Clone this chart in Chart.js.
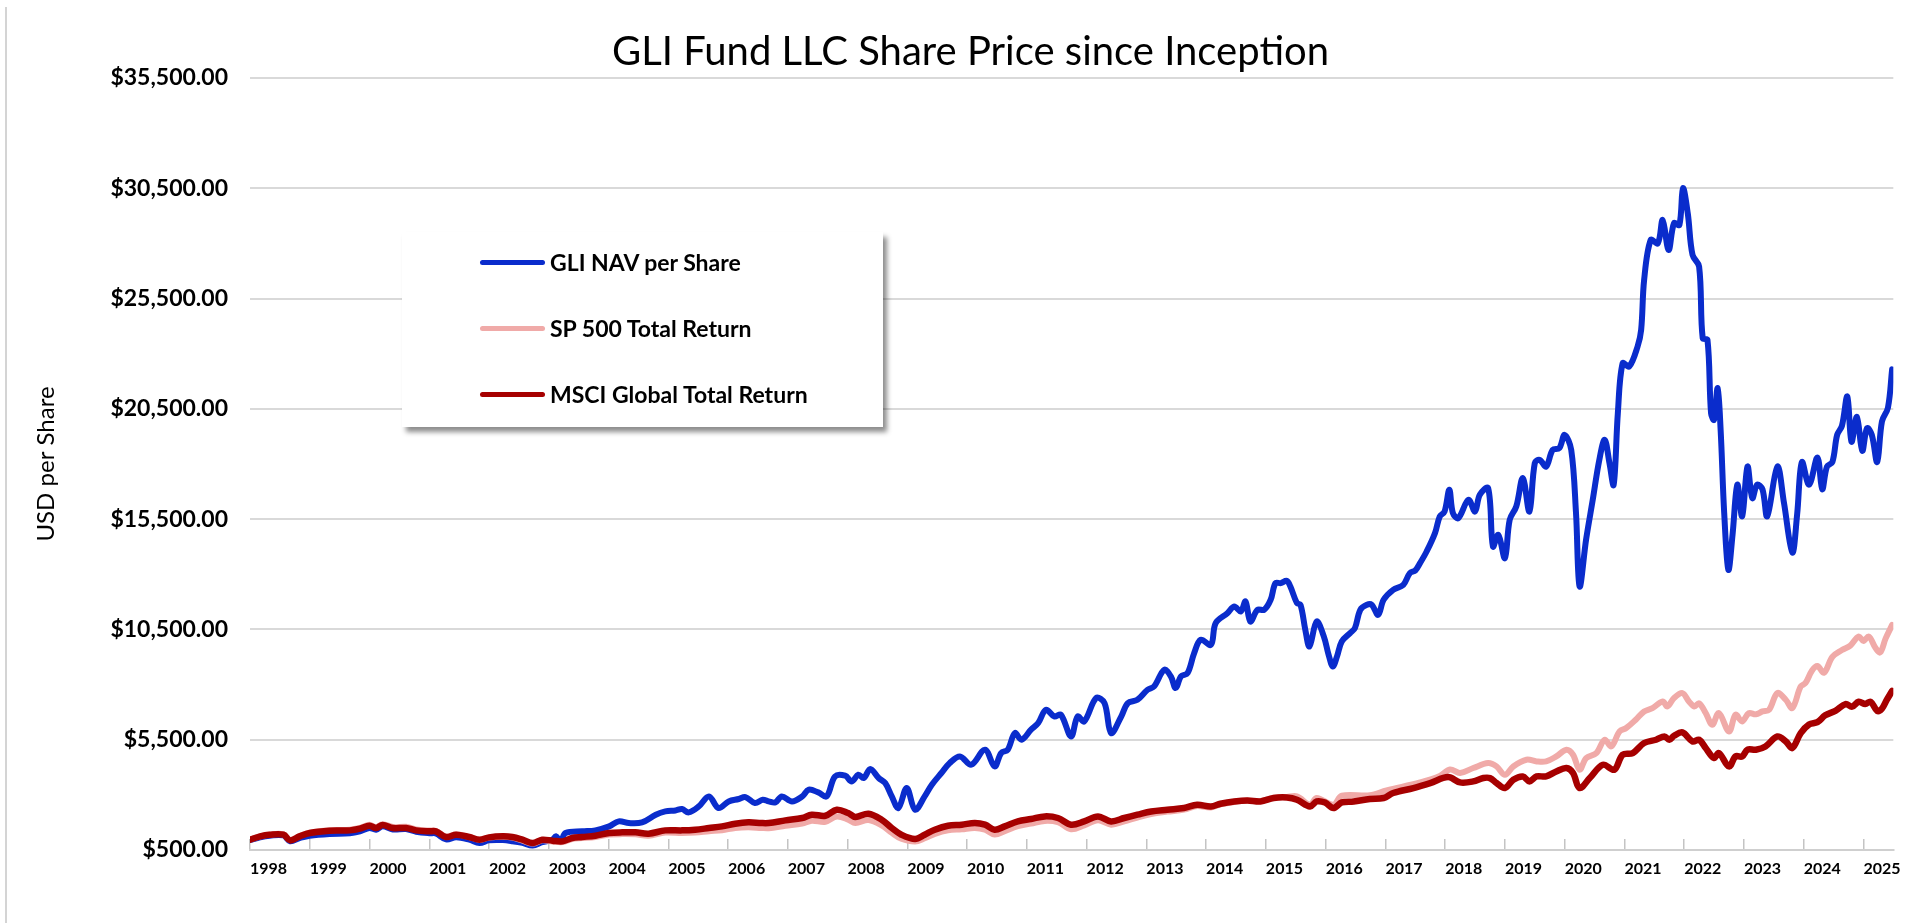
<!DOCTYPE html>
<html>
<head>
<meta charset="utf-8">
<script src="https://cdn.jsdelivr.net/npm/chart.js@4/dist/chart.umd.min.js"></script>
<style>
html,body{margin:0;padding:0;background:#fff;}
#wrap{position:relative;width:1921px;height:923px;overflow:hidden;background:#fff;}
#c{display:block;}
#frame{position:absolute;left:5px;top:7px;width:2px;height:916px;background:#d4d4d4;}
#legend{position:absolute;left:402px;top:232px;width:481px;height:195px;background:#fff;box-shadow:4px 5px 5px rgba(0,0,0,0.45);font-family:Lato, sans-serif;font-weight:700;font-size:23px;color:#000;}
.item{position:absolute;left:78px;height:30px;display:flex;align-items:center;white-space:nowrap;}
.swatch{width:65px;height:5px;border-radius:3px;margin-right:5px;}
</style>
</head>
<body>
<div id="wrap">
<canvas id="c" width="1921" height="923"></canvas>
<div id="frame"></div>
<div id="legend"></div>
</div>
<script>
const chartTitle = 'GLI Fund LLC Share Price since Inception';
const yAxisTitle = 'USD per Share';
const seriesNames = ['GLI NAV per Share', 'SP 500 Total Return', 'MSCI Global Total Return'];
const yearTicks = [1998,1999,2000,2001,2002,2003,2004,2005,2006,2007,2008,2009,2010,2011,2012,2013,2014,2015,2016,2017,2018,2019,2020,2021,2022,2023,2024,2025];
const yTicks = [500,5500,10500,15500,20500,25500,30500,35500];

const gliYears = [1998.00,1998.17,1998.33,1998.56,1998.67,1998.83,1999.00,1999.33,1999.67,1999.84,
2000.00,2000.11,2000.22,2000.39,2000.61,2000.78,2001.00,2001.11,2001.28,2001.45,2001.67,2001.84,
2002.00,2002.23,2002.39,2002.56,2002.73,2002.89,2003.06,2003.12,2003.20,2003.28,2003.56,2003.78,
2004.01,2004.17,2004.34,2004.56,2004.79,2004.95,2005.12,2005.23,2005.34,2005.51,2005.68,2005.84,
2006.01,2006.18,2006.29,2006.45,2006.58,2006.68,2006.79,2006.90,2007.07,2007.24,2007.35,2007.51,
2007.65,2007.79,2007.96,2008.07,2008.18,2008.27,2008.38,2008.52,2008.63,2008.74,2008.85,2008.99,
2009.13,2009.29,2009.41,2009.57,2009.71,2009.88,2010.07,2010.30,2010.46,2010.57,2010.68,2010.80,
2010.91,2011.07,2011.19,2011.32,2011.46,2011.57,2011.74,2011.85,2011.96,2012.16,2012.30,2012.41,
2012.58,2012.69,2012.85,2013.02,2013.13,2013.30,2013.41,2013.49,2013.58,2013.69,2013.80,2013.91,
2014.08,2014.16,2014.36,2014.47,2014.58,2014.66,2014.74,2014.86,2014.97,2015.08,2015.16,2015.25,
2015.35,2015.41,2015.52,2015.58,2015.66,2015.73,2015.85,2015.97,2016.05,2016.12,2016.19,2016.27,
2016.41,2016.49,2016.58,2016.69,2016.77,2016.88,2016.97,2017.13,2017.30,2017.41,2017.50,2017.58,
2017.69,2017.83,2017.91,2017.99,2018.07,2018.13,2018.22,2018.39,2018.50,2018.58,2018.72,2018.80,
2018.89,2019.00,2019.08,2019.19,2019.30,2019.41,2019.50,2019.58,2019.69,2019.80,2019.91,2020.00,
2020.11,2020.19,2020.25,2020.36,2020.47,2020.58,2020.67,2020.75,2020.82,2020.89,2020.97,2021.08,
2021.22,2021.28,2021.33,2021.44,2021.56,2021.64,2021.74,2021.83,2021.92,2021.98,2022.06,2022.14,
2022.25,2022.31,2022.39,2022.45,2022.50,2022.56,2022.61,2022.67,2022.74,2022.81,2022.89,2022.97,
2023.06,2023.14,2023.22,2023.31,2023.39,2023.56,2023.67,2023.81,2023.89,2023.97,2024.09,2024.23,
2024.31,2024.39,2024.48,2024.56,2024.64,2024.73,2024.80,2024.89,2024.98,2025.06,2025.14,2025.23,
2025.31,2025.41,2025.48];
const gliValues = [950,1080,1150,1160,900,1040,1150,1230,1260,1350,
1500,1420,1580,1430,1450,1330,1260,1250,980,1080,970,820,
940,950,900,820,700,860,960,1120,900,1270,1345,1390,
1571,1797,1722,1753,2100,2250,2295,2355,2205,2476,2929,2403,
2703,2811,2900,2630,2780,2704,2657,2929,2704,2929,3233,3110,
2929,3836,3867,3610,3913,3763,4171,3763,3536,2929,2403,3310,
2328,2929,3459,3990,4443,4742,4367,5046,4290,4896,5046,5802,
5499,5952,6256,6858,6555,6632,5649,6555,6328,7389,7162,5800,
6555,7162,7312,7765,7915,8671,8368,7842,8368,8521,9428,10031,
9804,10788,11241,11541,11315,11768,10861,11391,11391,11844,12600,12600,
12700,12447,11694,11617,10484,9728,10861,10181,9351,8821,9274,9954,
10334,10561,11391,11617,11617,11164,11844,12297,12523,13053,13172,13507,
14032,14867,15619,15845,16830,15773,15546,16376,15845,16602,16906,14260,
14790,13730,15469,16072,17359,15845,18039,18189,17885,18642,18719,19321,
18642,15773,12447,14600,16376,18189,19095,18039,17055,20305,22571,22418,
23324,24081,26347,28160,28009,29065,27704,28915,28839,30502,29368,27478,
26951,23704,23627,20305,20002,21438,19549,15773,13203,14808,17062,15627,
17885,16449,17062,16856,15627,17885,16244,13987,15703,18088,17062,18292,
16856,17885,18088,19320,19729,21061,19011,20137,18600,19626,19320,18088,
19933,20549,22290];

const spYears = [1998.00,1998.17,1998.33,1998.56,1998.67,1998.83,1999.00,1999.33,1999.67,1999.84,
2000.00,2000.11,2000.22,2000.39,2000.61,2000.78,2001.00,2001.11,2001.28,2001.45,2001.67,2001.84,
2002.00,2002.23,2002.39,2002.56,2002.73,2002.89,2003.06,2003.23,2003.39,2003.56,2003.78,
2004.01,2004.23,2004.45,2004.67,2004.95,2005.23,2005.45,2005.68,2005.90,2006.12,2006.34,2006.56,
2006.68,2006.96,2007.24,2007.40,2007.63,2007.82,2008.01,2008.13,2008.35,2008.57,2008.74,2008.90,
2009.13,2009.29,2009.46,2009.68,2009.91,2010.13,2010.30,2010.46,2010.63,2010.85,2011.07,2011.30,
2011.52,2011.74,2011.96,2012.19,2012.41,2012.63,2012.85,2013.08,2013.35,2013.63,2013.85,2014.08,
2014.24,2014.47,2014.69,2014.91,2015.13,2015.35,2015.52,2015.74,2015.85,2016.13,2016.27,2016.74,
2017.02,2017.58,2017.91,2018.08,2018.25,2018.47,2018.72,2018.86,2019.00,2019.14,2019.36,2019.53,
2019.69,2019.86,2020.03,2020.14,2020.25,2020.36,2020.53,2020.67,2020.78,2020.92,2021.03,2021.19,
2021.33,2021.47,2021.64,2021.72,2021.83,2021.97,2022.08,2022.17,2022.25,2022.36,2022.47,2022.58,
2022.75,2022.86,2022.97,2023.08,2023.20,2023.31,2023.42,2023.56,2023.70,2023.81,2023.95,2024.03,
2024.14,2024.23,2024.34,2024.48,2024.64,2024.78,2024.92,2025.00,2025.09,2025.20,2025.28,2025.37,
2025.48];
const spValues = [980,1120,1200,1210,950,1130,1290,1400,1420,1500,
1640,1530,1670,1540,1550,1430,1380,1370,1100,1210,1090,960,
1060,1100,1060,930,790,940,890,860,1000,1040,1090,
1200,1220,1210,1150,1290,1270,1290,1350,1400,1500,1530,1500,
1490,1600,1700,1830,1780,2020,1880,1720,1860,1620,1280,1010,
880,1030,1230,1390,1440,1500,1420,1200,1350,1580,1700,1820,
1760,1440,1620,1850,1650,1800,1970,2130,2240,2330,2490,2430,
2570,2680,2740,2720,2870,2900,2933,2553,2857,2553,2960,2980,
3200,3560,3850,4150,3990,4216,4443,4290,3913,4289,4593,4517,
4517,4742,5046,4819,4139,4670,4896,5499,5197,5875,6029,6405,
6781,6935,7235,7008,7389,7615,7235,7008,7150,6709,6179,6709,
5875,6632,6328,6700,6650,6781,6850,7615,7312,6935,7915,8068,
8640,8844,8535,9256,9564,9768,10180,9976,10180,9668,9460,10081,
10706];

const msciYears = [1998.00,1998.17,1998.33,1998.56,1998.67,1998.83,1999.00,1999.33,1999.67,1999.84,
2000.00,2000.11,2000.22,2000.39,2000.61,2000.78,2001.00,2001.11,2001.28,2001.45,2001.67,2001.84,
2002.00,2002.23,2002.39,2002.56,2002.73,2002.89,2003.06,2003.23,2003.39,2003.56,2003.78,
2004.01,2004.23,2004.45,2004.67,2004.95,2005.23,2005.45,2005.68,2005.90,2006.12,2006.34,2006.56,
2006.68,2006.96,2007.24,2007.40,2007.63,2007.82,2008.01,2008.13,2008.35,2008.57,2008.74,2008.90,
2009.13,2009.29,2009.46,2009.68,2009.91,2010.13,2010.30,2010.46,2010.63,2010.85,2011.07,2011.30,
2011.52,2011.74,2011.96,2012.19,2012.41,2012.63,2012.85,2013.08,2013.35,2013.63,2013.85,2014.08,
2014.24,2014.47,2014.69,2014.91,2015.13,2015.35,2015.52,2015.74,2015.85,2015.99,2016.13,2016.27,
2016.47,2016.74,2016.97,2017.13,2017.47,2017.75,2018.05,2018.25,2018.47,2018.64,2018.75,2018.86,
2019.00,2019.14,2019.30,2019.41,2019.53,2019.69,2019.86,2020.03,2020.14,2020.25,2020.42,2020.64,
2020.83,2020.97,2021.14,2021.33,2021.53,2021.67,2021.75,2021.83,2021.97,2022.14,2022.25,2022.36,
2022.50,2022.58,2022.75,2022.86,2022.97,2023.06,2023.20,2023.36,2023.56,2023.70,2023.81,2023.95,
2024.09,2024.23,2024.36,2024.53,2024.70,2024.81,2024.92,2025.03,2025.12,2025.23,2025.31,2025.39,
2025.48];
const msciValues = [967,1118,1193,1193,936,1118,1270,1375,1390,1466,
1602,1496,1632,1496,1496,1390,1345,1345,1088,1193,1088,967,
1073,1118,1088,967,816,967,922,891,1042,1088,1148,
1270,1300,1300,1239,1390,1390,1420,1496,1571,1692,1753,1722,
1724,1843,1950,2100,2054,2328,2177,1996,2146,1873,1497,1194,
997,1194,1420,1601,1647,1724,1647,1420,1570,1797,1905,2023,
1950,1647,1797,2023,1797,1950,2100,2249,2328,2403,2553,2476,
2598,2703,2748,2703,2857,2880,2781,2476,2703,2650,2403,2657,
2700,2811,2857,3083,3310,3536,3808,3564,3610,3763,3760,3536,
3310,3686,3836,3610,3836,3836,4062,4216,3990,3310,3763,4366,
4139,4819,4896,5349,5499,5649,5499,5680,5830,5422,5499,5123,
4670,4896,4289,4742,4742,5046,5046,5197,5649,5422,5123,5802,
6192,6296,6604,6808,7117,6999,7221,7117,7221,6808,6913,7303,
7715];

const seriesColors = ['#0a2ccc', '#f0aaa8', '#a60000'];

function toPoints(xs, ys) {
  const n = Math.min(xs.length, ys.length);
  const out = [];
  for (let i = 0; i < n; i++) out.push({x: xs[i], y: ys[i]});
  return out;
}

const chart = new Chart(document.getElementById('c').getContext('2d'), {
  type: 'line',
  data: {
    datasets: [
      {label: seriesNames[0], data: toPoints(gliYears, gliValues), borderColor: seriesColors[0], borderWidth: 6, order: 2},
      {label: seriesNames[1], data: toPoints(spYears, spValues), borderColor: seriesColors[1], borderWidth: 6, order: 1},
      {label: seriesNames[2], data: toPoints(msciYears, msciValues), borderColor: seriesColors[2], borderWidth: 6.5, order: 0}
    ]
  },
  options: {
    responsive: false,
    animation: false,
    devicePixelRatio: 1,
    elements: {
      point: {radius: 0, hoverRadius: 0},
      line: {tension: 0.35, borderCapStyle: 'round', borderJoinStyle: 'round', fill: false}
    },
    layout: {padding: {left: 44, right: 24, top: 0, bottom: 0}},
    plugins: {
      legend: {display: false},
      tooltip: {enabled: false},
      title: {
        display: true, text: chartTitle, color: '#000',
        font: {family: 'Lato', size: 40, weight: 'normal'},
        padding: {top: 28, bottom: 2}
      }
    },
    scales: {
      x: {
        type: 'linear', min: 1998, max: 2025.5,
        afterBuildTicks: s => { s.ticks = yearTicks.map(v => ({value: v})); },
        afterFit: s => { s.height = 73; },
        grid: {drawOnChartArea: false, drawTicks: true, tickLength: -11, color: '#c4c4c4', lineWidth: 1.5},
        border: {display: true, color: '#cfcfcf', width: 2},
        ticks: {
          align: 'start', padding: 20, color: '#000', maxRotation: 0, autoSkip: false,
          font: {family: 'Lato', size: 16, weight: 'bold'},
          callback: v => String(v)
        }
      },
      y: {
        min: 500, max: 35500,
        afterBuildTicks: s => { s.ticks = yTicks.map(v => ({value: v})); },
        afterFit: s => { s.width = 206; },
        grid: {color: '#d9d9d9', lineWidth: 2, drawTicks: false},
        border: {display: false},
        ticks: {
          padding: 22, color: '#000',
          font: {family: 'Lato', size: 23, weight: 'bold'},
          callback: v => '$' + Number(v).toLocaleString('en-US', {minimumFractionDigits: 2, maximumFractionDigits: 2})
        },
        title: {
          display: true, text: yAxisTitle, color: '#000',
          font: {family: 'Lato', size: 24, weight: 'normal'},
          padding: {top: -12, bottom: 0}
        }
      }
    }
  }
});

// legend box built from the chart's datasets
const legendEl = document.getElementById('legend');
const rowCenters = [30, 96, 162];
chart.data.datasets.forEach((ds, i) => {
  const item = document.createElement('div');
  item.className = 'item';
  item.style.top = (rowCenters[i] - 15) + 'px';
  const sw = document.createElement('span');
  sw.className = 'swatch';
  sw.style.background = ds.borderColor;
  const tx = document.createElement('span');
  tx.textContent = ds.label;
  item.appendChild(sw);
  item.appendChild(tx);
  legendEl.appendChild(item);
});
</script>
</body>
</html>
